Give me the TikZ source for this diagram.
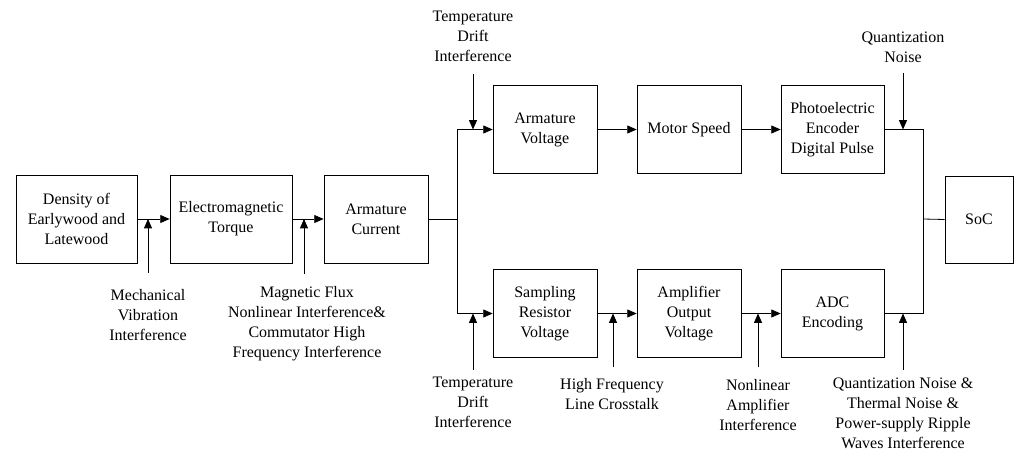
\documentclass[tikz,border=0pt]{standalone}
\usepackage{fontspec}
\setmainfont{Liberation Serif}
\usetikzlibrary{arrows.meta}
\begin{document}
\begin{tikzpicture}[x=0.75pt,y=-0.75pt,
  blk/.style={draw,line width=0.6pt,align=center,inner sep=0pt,font=\fontsize{12}{15}\selectfont},
  lbl/.style={align=center,inner sep=0pt,font=\fontsize{12}{15}\selectfont},
  wire/.style={line width=0.6pt},
  arr/.style={wire,-{Triangle[length=7pt,width=6pt]}}]
\useasboundingbox (0,0) rectangle (1014,452);
% blocks
\node[blk,minimum width=90.75pt,minimum height=66pt] (b1) at (76.5,219) {Density of\\Earlywood and\\Latewood};
\node[blk,minimum width=91.5pt,minimum height=66pt] (b2) at (231,219) {Electromagnetic\\Torque};
\node[blk,minimum width=78pt,minimum height=66pt] (b3) at (376,219) {Armature\\Current};
\node[blk,minimum width=78pt,minimum height=66pt] (av) at (545,129.5) {Armature\\Voltage};
\node[blk,minimum width=78pt,minimum height=66pt] (ms) at (689,129.5) {Motor Speed};
\node[blk,minimum width=77.25pt,minimum height=66pt] (pe) at (832.5,129.5) {Photoelectric\\Encoder\\Digital Pulse};
\node[blk,minimum width=78pt,minimum height=66pt] (sr) at (545,313.5) {Sampling\\Resistor\\Voltage};
\node[blk,minimum width=78pt,minimum height=66pt] (ao) at (689,313.5) {Amplifier\\Output\\Voltage};
\node[blk,minimum width=77.25pt,minimum height=66pt] (adc) at (832.5,313.5) {ADC\\Encoding};
\node[blk,minimum width=51pt,minimum height=65.25pt] (soc) at (979,219.5) {SoC};
% junctions
\coordinate (j1) at (457,219);
\coordinate (j2) at (923,219);
% main connectors
\draw[arr] (b1) -- (b2);
\draw[arr] (b2) -- (b3);
\draw[wire] (b3.east) -- (j1);
\draw[arr] (j1) |- (av.west);
\draw[arr] (j1) |- (sr.west);
\draw[arr] (av) -- (ms);
\draw[arr] (ms) -- (pe);
\draw[arr] (sr) -- (ao);
\draw[arr] (ao) -- (adc);
\draw[wire] (pe.east) -| (j2);
\draw[wire] (adc.east) -| (j2);
\draw[wire] (j2) -- (soc.west);
% disturbance labels
\node[lbl] (t1) at (148,315) {Mechanical\\Vibration\\Interference};
\node[lbl] (t2) at (307,323.5) {Magnetic Flux\\Nonlinear Interference\&\\Commutator High\\Frequency Interference};
\node[lbl] (t3) at (473,36.5) {Temperature\\Drift\\Interference};
\node[lbl] (t4) at (903,47.5) {Quantization\\Noise};
\node[lbl] (t5) at (473,402.5) {Temperature\\Drift\\Interference};
\node[lbl] (t6) at (612,394.5) {High Frequency\\Line Crosstalk};
\node[lbl] (t7) at (758,405) {Nonlinear\\Amplifier\\Interference};
\node[lbl] (t8) at (903,413) {Quantization Noise \&\\Thermal Noise \&\\Power-supply Ripple\\Waves Interference};
% disturbance arrows
\coordinate (n1) at (148,273);
\coordinate (n2) at (304,274);
\coordinate (n3) at (473,74);
\coordinate (n4) at (903,73);
\coordinate (n5) at (473,370);
\coordinate (n6) at (613,367);
\coordinate (n7) at (758,367);
\coordinate (n8) at (903,370);
\draw[arr] (n1) -- (n1 |- b1.east);
\draw[arr] (n2) -- (n2 |- b2.east);
\draw[arr] (n3) -- (n3 |- av.west);
\draw[arr] (n4) -- (n4 |- pe.east);
\draw[arr] (n5) -- (n5 |- sr.west);
\draw[arr] (n6) -- (n6 |- sr.east);
\draw[arr] (n7) -- (n7 |- ao.east);
\draw[arr] (n8) -- (n8 |- adc.east);
\end{tikzpicture}
\end{document}
